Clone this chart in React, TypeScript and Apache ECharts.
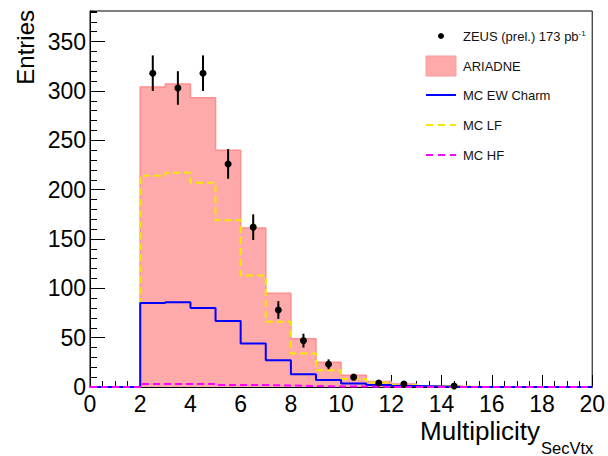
import React, { useEffect, useRef } from "react";
import * as echarts from "echarts";

// Histogram bin edges (Multiplicity_SecVtx)
const binEdges = [0, 1, 2, 3, 4, 5, 6, 7, 8, 9, 10, 11, 12, 13, 14, 15, 16, 17, 18, 19, 20];

// Monte Carlo histograms (entries per bin)
const ariadne = [0, 0, 304, 307, 293, 240, 161, 95, 49, 25, 12, 5.5, 3, 1, 0.5, 0, 0, 0, 0, 0];
const mcLF = [0, 0, 214, 217, 207, 169, 113, 66, 34, 17, 8, 4.5, 2, 1, 0.5, 0, 0, 0, 0, 0];
const mcEWCharm = [0, 0, 85, 86, 80, 67, 44, 27, 13, 7, 3.5, 2, 1, 0.5, 0, 0, 0, 0, 0, 0];
const mcHF = [0, 0, 3, 3, 3, 2, 2, 1.5, 1, 0.5, 0.5, 0, 0, 0, 0, 0, 0, 0, 0, 0];

// ZEUS data points
const dataX = [2.5, 3.5, 4.5, 5.5, 6.5, 7.5, 8.5, 9.5, 10.5, 11.5, 12.5, 14.5];
const dataY = [318, 303, 318, 226, 162, 78, 47, 23, 10, 4, 3, 1];
const dataErr = [18, 17, 18, 15, 13, 9, 7, 5, 3, 2, 1.7, 1];

const FONT = "'Liberation Sans', Arial, Helvetica, sans-serif";

function stepPoints(vals: number[]) {
  const pts: number[][] = [];
  vals.forEach((v, i) => {
    pts.push([binEdges[i], v]);
    pts.push([binEdges[i + 1], v]);
  });
  return pts;
}

export default function App() {
  const ref = useRef<HTMLDivElement>(null);
  useEffect(() => {
    if (!ref.current) return;
    const chart = echarts.init(ref.current, null, { renderer: "svg" });
    const legendX = 426;
    const textX = 463;
    const legendFont = `13px ${FONT}`;
    const option: any = {
      animation: false,
      backgroundColor: "#fff",
      grid: {
        left: 90,
        top: 11,
        right: 13,
        bottom: 69,
        show: true,
        borderColor: "#000",
        borderWidth: 1,
        backgroundColor: "transparent",
      },
      xAxis: {
        type: "value",
        min: 0,
        max: 20,
        interval: 2,
        axisLine: { show: true, lineStyle: { color: "#000", width: 1 } },
        axisTick: { show: true, inside: true, length: 12, lineStyle: { color: "#000", width: 1 } },
        minorTick: { show: true, splitNumber: 4, length: 6, lineStyle: { color: "#000", width: 1 } },
        splitLine: { show: false },
        axisLabel: { fontSize: 23, color: "#000", fontFamily: FONT, margin: 5 },
      },
      yAxis: [
        {
          type: "value",
          position: "left",
          min: 0,
          max: 381,
          interval: 50,
          axisLine: { show: true, lineStyle: { color: "#000", width: 1 } },
          axisTick: { show: true, inside: true, length: 15, lineStyle: { color: "#000", width: 1 } },
          splitLine: { show: false },
          axisLabel: { fontSize: 23, color: "#000", fontFamily: FONT, margin: 4, showMaxLabel: false },
        },
        {
          type: "value",
          position: "left",
          min: 0,
          max: 381,
          interval: 10,
          axisLine: { show: false },
          axisTick: { show: true, inside: true, length: 7, lineStyle: { color: "#000", width: 1 } },
          splitLine: { show: false },
          axisLabel: { show: false },
        },
      ],
      series: [
        {
          name: "ARIADNE",
          type: "line",
          data: stepPoints(ariadne),
          symbol: "none",
          lineStyle: { color: "#ff8f8f", width: 1.5 },
          areaStyle: { color: "#ffaaaa", opacity: 1 },
          z: 1,
        },
        {
          name: "MC LF",
          type: "line",
          data: stepPoints(mcLF),
          symbol: "none",
          clip: false,
          lineStyle: { color: "#f5e800", width: 2, type: [7, 4] },
          z: 2,
        },
        {
          name: "MC EW Charm",
          type: "line",
          data: stepPoints(mcEWCharm),
          symbol: "none",
          clip: false,
          lineStyle: { color: "#0000ff", width: 2 },
          z: 3,
        },
        {
          name: "MC HF",
          type: "line",
          data: stepPoints(mcHF),
          symbol: "none",
          clip: false,
          lineStyle: { color: "#ff00ff", width: 2, type: [7, 4] },
          z: 4,
        },
        {
          name: "ZEUS (prel.) 173 pb-1",
          type: "custom",
          data: dataX.map((x, i) => [x, dataY[i], dataErr[i]]),
          z: 10,
          clip: false,
          renderItem: (params: any, api: any) => {
            const x = api.value(0);
            const y = api.value(1);
            const e = api.value(2);
            const p = api.coord([x, y]);
            const lo = api.coord([x, Math.max(0, y - e)]);
            const hi = api.coord([x, y + e]);
            return {
              type: "group",
              children: [
                {
                  type: "line",
                  shape: { x1: p[0], y1: lo[1], x2: p[0], y2: hi[1] },
                  style: { stroke: "#000", lineWidth: 2 },
                },
                {
                  type: "circle",
                  shape: { cx: p[0], cy: p[1], r: 3.5 },
                  style: { fill: "#000" },
                },
              ],
            };
          },
        },
      ],
      graphic: [
        // y-axis title
        {
          type: "text",
          x: 25,
          y: 10,
          rotation: Math.PI / 2,
          style: {
            text: "Entries",
            font: `24px ${FONT}`,
            fill: "#000",
            align: "right",
            verticalAlign: "middle",
          },
        },
        // x-axis title
        {
          type: "text",
          x: 540,
          y: 431,
          style: {
            text: "Multiplicity",
            font: `26px ${FONT}`,
            fill: "#000",
            align: "right",
            verticalAlign: "middle",
          },
        },
        {
          type: "text",
          x: 541,
          y: 448,
          style: {
            text: "SecVtx",
            font: `16.5px ${FONT}`,
            fill: "#000",
            align: "left",
            verticalAlign: "middle",
          },
        },
        // Legend
        {
          type: "circle",
          shape: { cx: legendX + 15, cy: 36, r: 3 },
          style: { fill: "#000" },
          z: 20,
        },
        {
          type: "text",
          x: textX,
          y: 36,
          z: 20,
          style: {
            text: "ZEUS (prel.) 173 pb{sup|-1}",
            font: legendFont,
            fill: "#111",
            verticalAlign: "middle",
            rich: { sup: { fontSize: 8, fontFamily: FONT, verticalAlign: "top", padding: [0, 0, 6, 0] } },
          },
        },
        {
          type: "rect",
          shape: { x: legendX, y: 56, width: 30, height: 20 },
          style: { fill: "#ffaaaa", stroke: "#ff9999", lineWidth: 1 },
          z: 20,
        },
        {
          type: "text",
          x: textX,
          y: 66,
          z: 20,
          style: { text: "ARIADNE", font: legendFont, fill: "#111", verticalAlign: "middle" },
        },
        {
          type: "line",
          shape: { x1: legendX, y1: 95, x2: legendX + 30, y2: 95 },
          style: { stroke: "#0000ff", lineWidth: 2 },
          z: 20,
        },
        {
          type: "text",
          x: textX,
          y: 95,
          z: 20,
          style: { text: "MC EW Charm", font: legendFont, fill: "#111", verticalAlign: "middle" },
        },
        {
          type: "line",
          shape: { x1: legendX, y1: 125, x2: legendX + 30, y2: 125 },
          style: { stroke: "#f5e800", lineWidth: 2, lineDash: [7, 5] },
          z: 20,
        },
        {
          type: "text",
          x: textX,
          y: 125,
          z: 20,
          style: { text: "MC LF", font: legendFont, fill: "#111", verticalAlign: "middle" },
        },
        {
          type: "line",
          shape: { x1: legendX, y1: 155, x2: legendX + 30, y2: 155 },
          style: { stroke: "#ff00ff", lineWidth: 2, lineDash: [7, 5] },
          z: 20,
        },
        {
          type: "text",
          x: textX,
          y: 155,
          z: 20,
          style: { text: "MC HF", font: legendFont, fill: "#111", verticalAlign: "middle" },
        },
      ],
    };
    chart.setOption(option);
    return () => chart.dispose();
  }, []);
  return (
    <div
      ref={ref}
      style={{ position: "fixed", left: 0, top: 0, width: 608, height: 456, background: "#fff" }}
    />
  );
}
